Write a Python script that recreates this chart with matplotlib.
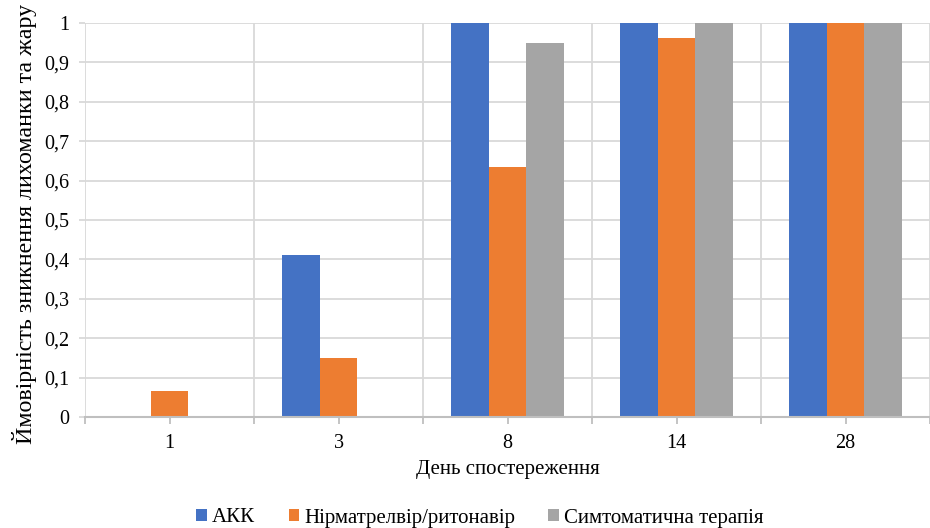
import numpy as np
import matplotlib
matplotlib.use('Agg')
import matplotlib.pyplot as plt

plt.rcParams['font.family'] = ['Liberation Serif', 'DejaVu Serif']

# data
days = ['1', '3', '8', '14', '28']
series_names = ['АКК', 'Нірматрелвір/ритонавір', 'Симтоматична терапія']
akk = [0.0, 0.411, 1.0, 1.0, 1.0]
nirm = [0.067, 0.151, 0.635, 0.962, 1.0]
symp = [0.0, 0.0, 0.95, 1.0, 1.0]
colors = ['#4472C4', '#ED7D31', '#A5A5A5']
yticks = [0, 0.1, 0.2, 0.3, 0.4, 0.5, 0.6, 0.7, 0.8, 0.9, 1.0]

grid_c = '#D9D9D9'

fig = plt.figure(figsize=(9.3, 5.28), dpi=100)
ax = fig.add_axes([85/930, (528-417)/528, (930-85)/930, (417-23)/528])

x = np.arange(len(days))
w = 1/4.5
for i, (vals, name) in enumerate(zip([akk, nirm, symp], series_names)):
    ax.bar(x + (i-1)*w, vals, width=w, color=colors[i], label=name, zorder=3)

# right side of the last category is cut by the picture edge
ax.set_xlim(-0.5, 4.5 - 7.5/170.5)
ax.set_ylim(0, 1)

ax.set_yticks(yticks)
ax.set_yticklabels([('%g' % t).replace('.', ',') for t in yticks])
ax.set_xticks(x)
ax.set_xticklabels(days)
ax.set_xticks(np.arange(len(days)+1) - 0.5, minor=True)

ax.grid(axis='y', which='major', color=grid_c, lw=1.3, zorder=0)
ax.grid(axis='x', which='minor', color=grid_c, lw=1.3, zorder=0)
for s in ['top', 'right', 'left']:
    ax.spines[s].set_visible(False)
ax.spines['bottom'].set_color('#BFBFBF')
ax.spines['bottom'].set_linewidth(1.5)
ax.spines['bottom'].set_zorder(4)

ax.tick_params(axis='y', length=4, color=grid_c, width=1.3, pad=7, labelsize=14.5)
ax.tick_params(axis='x', which='both', length=5, color='#BFBFBF', width=1.3)
ax.tick_params(axis='x', which='major', pad=7, labelsize=14.5)

ax.set_xlabel('День спостереження', fontsize=15, labelpad=5)
ax.set_ylabel('Ймовірність зникнення лихоманки та жару', fontsize=17.3)
ax.yaxis.set_label_coords(-48/845, 0.49)

ax.legend(loc='center', bbox_to_anchor=(480/930, 10/528), bbox_transform=fig.transFigure,
          ncol=3, frameon=False, fontsize=15, handlelength=0.5, handleheight=0.5,
          handletextpad=0.25, columnspacing=1.6)

plt.savefig('out.png', dpi=100)
